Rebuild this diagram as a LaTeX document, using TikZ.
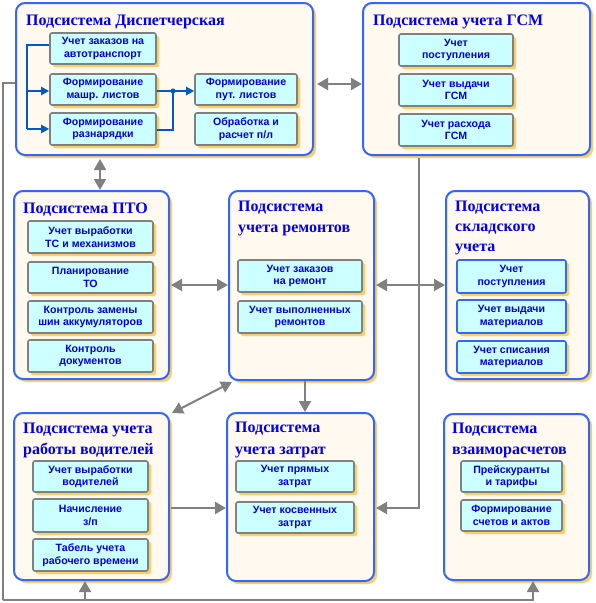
\documentclass[tikz,border=0pt]{standalone}
\usepackage{fontspec}
\setmainfont{Liberation Serif}
\setsansfont{Liberation Sans}
\usetikzlibrary{arrows.meta,shadows,calc}
\definecolor{obl}{RGB}{51,102,255}
\definecolor{cream}{RGB}{255,249,239}
\definecolor{shad}{RGB}{255,204,102}
\definecolor{cyanf}{RGB}{204,255,255}
\definecolor{ibd}{RGB}{128,128,128}
\definecolor{ttlc}{RGB}{0,0,245}
\definecolor{itx}{RGB}{0,0,225}
\definecolor{cbl}{RGB}{0,90,200}
\definecolor{cgr}{RGB}{128,128,128}
\begin{document}
\begin{tikzpicture}[x=1pt,y=-1pt,
  outer/.style={draw=obl, line width=2pt, fill=cream, rounded corners=9pt, anchor=north west, inner sep=0pt,
    general shadow={fill=shad, shadow xshift=3pt, shadow yshift=-3pt}},
  inbox/.style={draw=ibd, line width=1.6pt, fill=cyanf, rounded corners=2pt, inner sep=0pt,
    general shadow={fill=shad, shadow xshift=3pt, shadow yshift=-3pt},
    font=\sffamily\bfseries\fontsize{10.6}{12.5}\selectfont, text=itx, align=center},
  inboxb/.style={inbox, draw=obl},
  titletext/.style={font=\bfseries\fontsize{16}{21}\selectfont, text=ttlc, anchor=base west, inner sep=0pt},
  gline/.style={draw=cgr, line width=2pt},
  garrow/.style={gline, -{Triangle[length=11pt,width=12pt]}},
  gdbl/.style={gline, {Triangle[length=11pt,width=12pt]}-{Triangle[length=11pt,width=12pt]}},
  bline/.style={draw=cbl, line width=2pt},
  barrow/.style={bline, -{Triangle[length=8pt,width=8pt]}}
]
\useasboundingbox (0,0) rectangle (595,603);

% outer boxes
\node[outer, minimum width=297pt, minimum height=152pt] (disp) at (15,2) {};
\node[outer, minimum width=227pt, minimum height=152pt] (gsm) at (362,2) {};
\node[outer, minimum width=155pt, minimum height=188pt] (pto) at (13,190) {};
\node[outer, minimum width=145pt, minimum height=189pt] (rem) at (228,190) {};
\node[outer, minimum width=143pt, minimum height=188pt] (wh) at (445,190) {};
\node[outer, minimum width=155pt, minimum height=167pt] (drv) at (13,412) {};
\node[outer, minimum width=147pt, minimum height=168pt] (cost) at (226,412) {};
\node[outer, minimum width=145pt, minimum height=166pt] (mut) at (443,413) {};

% titles
\node[titletext] (t1) at (26,25) {Подсистема Диспетчерская};
\node[titletext] (t2) at (373,25) {Подсистема учета ГСМ};
\node[titletext] (t3) at (23,213) {Подсистема ПТО};
\node[titletext] (t4a) at (238,211) {Подсистема};
\node[titletext] (t4b) at (238,232) {учета ремонтов};
\node[titletext] (t5a) at (455,211) {Подсистема};
\node[titletext] (t5b) at (455,231) {складского};
\node[titletext] (t5c) at (455,251) {учета};
\node[titletext] (t6a) at (23,433) {Подсистема учета};
\node[titletext] (t6b) at (23,454) {работы водителей};
\node[titletext] (t7a) at (235,432) {Подсистема};
\node[titletext] (t7b) at (235,454) {учета затрат};
\node[titletext] (t8a) at (452,433) {Подсистема};
\node[titletext] (t8b) at (452,454) {взаиморасчетов};

% dispatcher inner
\node[inbox, minimum width=106pt, minimum height=31pt] (a1) at (103,48.5) {Учет заказов на\\автотранспорт};
\node[inbox, minimum width=106pt, minimum height=31pt] (a2) at (103,89.5) {Формирование\\машр. листов};
\node[inbox, minimum width=106pt, minimum height=32pt] (a3) at (103,129) {Формирование\\разнарядки};
\node[inbox, minimum width=102pt, minimum height=31pt] (a4) at (246,89.5) {Формирование\\пут. листов};
\node[inbox, minimum width=102pt, minimum height=32pt] (a5) at (246,129) {Обработка и\\расчет п/л};

% GSM inner
\node[inbox, minimum width=114pt, minimum height=32pt] (b1) at (456,50) {Учет\\поступления};
\node[inbox, minimum width=114pt, minimum height=32pt] (b2) at (456,90) {Учет выдачи\\ГСМ};
\node[inbox, minimum width=114pt, minimum height=32pt] (b3) at (456,130) {Учет расхода\\ГСМ};

% PTO inner
\node[inbox, minimum width=125pt, minimum height=32pt] (c1) at (90.5,237) {Учет выработки\\ТС и механизмов};
\node[inbox, minimum width=125pt, minimum height=31pt] (c2) at (90.5,277.5) {Планирование\\ТО};
\node[inbox, minimum width=125pt, minimum height=32pt] (c3) at (90.5,317) {Контроль замены\\шин аккумуляторов};
\node[inbox, minimum width=125pt, minimum height=32pt] (c4) at (90.5,356) {Контроль\\документов};

% repairs inner
\node[inbox, minimum width=124pt, minimum height=32pt] (d1) at (300,276) {Учет заказов\\на ремонт};
\node[inbox, minimum width=124pt, minimum height=32pt] (d2) at (300,317) {Учет выполненных\\ремонтов};

% warehouse inner
\node[inboxb, minimum width=109pt, minimum height=33pt] (e1) at (511.5,276.5) {Учет\\поступления};
\node[inboxb, minimum width=109pt, minimum height=33pt] (e2) at (511.5,316.5) {Учет выдачи\\материалов};
\node[inboxb, minimum width=109pt, minimum height=32pt] (e3) at (511.5,357) {Учет списания\\материалов};

% drivers inner
\node[inbox, minimum width=115pt, minimum height=31pt] (f1) at (90.5,476.5) {Учет выработки\\водителей};
\node[inbox, minimum width=115pt, minimum height=33pt] (f2) at (90.5,515.5) {Начисление\\з/п};
\node[inbox, minimum width=115pt, minimum height=32pt] (f3) at (90.5,555) {Табель учета\\рабочего времени};

% costs inner
\node[inbox, minimum width=118pt, minimum height=31pt] (g1) at (295,476.5) {Учет прямых\\затрат};
\node[inbox, minimum width=118pt, minimum height=31pt] (g2) at (295,517.5) {Учет косвенных\\затрат};

% mutual inner
\node[inbox, minimum width=101pt, minimum height=31pt] (h1) at (511.5,476.5) {Прейскуранты\\и тарифы};
\node[inbox, minimum width=101pt, minimum height=31pt] (h2) at (511.5,515.5) {Формирование\\счетов и актов};

% blue connectors inside dispatcher
\coordinate (busT) at (27,45);
\coordinate (busM) at (27,91);
\coordinate (busB) at (27,129);
\coordinate (junc) at (173,91);
\draw[bline] (a1.west |- busT) -- (busT) -- (busB);
\draw[barrow] (busM) -- (a2.west |- busM);
\draw[barrow] (busB) -- (a3.west |- busB);
\draw[barrow] (a2.east |- junc) -- (a4.west |- junc);
\draw[bline] (a3.east |- 0,130) -| (junc);
\fill[cbl] (junc) circle (2.6pt);

% gray connectors
\draw[gdbl] ($(disp.east |- 0,84)+(3,0)$) -- (gsm.west |- 0,84);
\draw[gdbl] ($(disp.south -| 100,0)+(0,3)$) -- (pto.north -| 100,0);
\draw[gdbl] ($(pto.east |- 0,285)+(1,0)$) -- (rem.west |- 0,285);
\draw[gdbl] ($(rem.east |- 0,285)+(1,0)$) -- (wh.west |- 0,285);
\draw[gdbl] ($(rem.south west)+(4,1)$) -- ($(drv.north east)+(2,1)$);
\draw[garrow] (rem.south -| 305,0) -- (cost.north -| 305,0);
\draw[garrow] ($(drv.east |- 0,508)+(1,0)$) -- (cost.west |- 0,508);
\draw[garrow] ($(gsm.south -| 419,0)+(0,2)$) |- ($(cost.east |- 0,508)+(1,0)$);
\coordinate (bL) at (3,83);
\coordinate (bLB) at (3,600);
\coordinate (bDr) at (85,600);
\draw[gline] (disp.west |- bL) -- (bL) -- (bLB);
\draw[garrow] (bLB) -| (mut.south -| 533,0);
\draw[garrow] (bDr) -- (drv.south -| bDr);
\end{tikzpicture}
\end{document}
